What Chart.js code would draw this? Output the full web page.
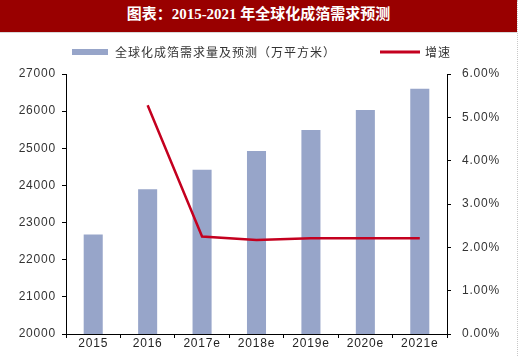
<!DOCTYPE html>
<html>
<head>
<meta charset="utf-8">
<script src="https://cdn.jsdelivr.net/npm/chart.js@4"></script>
<style>
  html, body { margin: 0; padding: 0; background: #fff; width: 520px; height: 356px; overflow: hidden; }
  #title { position: absolute; left: 0; top: 0; width: 517px; height: 32px; background: #990000;
           color: #fff; font: bold 15px "Liberation Serif", "Noto Sans CJK SC", serif; text-align: center;
           line-height: 29px; border-bottom: 1px solid #d8d8d8; }
  #wrap { position: absolute; left: 0; top: 33px; width: 520px; height: 323px; }
  #edge { position: absolute; left: 517px; top: 0; width: 0; height: 356px; border-left: 1px dotted #c8c8c8; }
</style>
</head>
<body>
<div id="title">图表：2015-2021&nbsp;年全球化成箔需求预测</div>
<div id="wrap"><canvas id="c" width="520" height="323"></canvas></div>
<div id="edge"></div>
<script>
const categories = ['2015', '2016', '2017e', '2018e', '2019e', '2020e', '2021e'];
const demand = [22680, 23900, 24420, 24930, 25490, 26030, 26600];
const growth = [null, 5.28, 2.25, 2.17, 2.21, 2.21, 2.21];
const demandLabel = '全球化成箔需求量及预测（万平方米）';
const growthLabel = '增速';
const leftTicks = [20000, 21000, 22000, 23000, 24000, 25000, 26000, 27000];
const rightTicks = [0, 1, 2, 3, 4, 5, 6];

const BAR = '#97a5c9';
const LINE = '#c4001f';

const spacingPlugin = {
  id: 'spacing',
  beforeUpdate(chart) { chart.ctx.letterSpacing = '0.8px'; },
  beforeDraw(chart) { chart.ctx.letterSpacing = '0.8px'; }
};

const legendPlugin = {
  id: 'customLegend',
  afterDraw(chart) {
    const ctx = chart.ctx;
    ctx.save();
    ctx.letterSpacing = '1px';
    ctx.fillStyle = BAR;
    ctx.fillRect(72, 16, 36, 6);
    ctx.font = '12px "Noto Sans CJK SC", sans-serif';
    ctx.fillStyle = '#333';
    ctx.textBaseline = 'middle';
    ctx.textAlign = 'left';
    ctx.fillText(demandLabel, 115, 19);
    ctx.strokeStyle = LINE;
    ctx.lineWidth = 3;
    ctx.beginPath();
    ctx.moveTo(380, 19);
    ctx.lineTo(420, 19);
    ctx.stroke();
    ctx.fillText(growthLabel, 425, 19);
    ctx.restore();
  }
};

new Chart(document.getElementById('c'), {
  data: {
    labels: categories,
    datasets: [
      {
        type: 'line', label: growthLabel, data: growth, yAxisID: 'y1',
        borderColor: LINE, backgroundColor: LINE, borderWidth: 2.5,
        pointRadius: 0, tension: 0, order: 0, spanGaps: false
      },
      {
        type: 'bar', label: demandLabel, data: demand, yAxisID: 'y',
        backgroundColor: BAR, borderWidth: 0,
        barPercentage: 0.35, categoryPercentage: 1.0, order: 1
      }
    ]
  },
  options: {
    responsive: false,
    animation: false,
    layout: { padding: { top: 41, left: 0, right: 0, bottom: 0 } },
    plugins: { legend: { display: false }, tooltip: { enabled: false }, title: { display: false } },
    scales: {
      x: {
        offset: true,
        grid: { display: true, drawOnChartArea: false, offset: true, tickLength: 4, color: '#000', tickColor: '#000' },
        border: { display: true, color: '#000', width: 1 },
        ticks: { color: '#222', font: { family: 'Arial, "Liberation Sans", sans-serif', size: 12 }, padding: -2, maxRotation: 0 },
        afterFit(s) { s.height = 22; }
      },
      y: {
        position: 'left', min: 20000, max: 27000,
        afterBuildTicks(s) { s.ticks = leftTicks.map(v => ({ value: v })); },
        grid: { display: true, drawOnChartArea: false, tickLength: 4, color: '#000', tickColor: '#000' },
        border: { display: true, color: '#000', width: 1 },
        ticks: { color: '#333', font: { family: 'Arial, "Liberation Sans", sans-serif', size: 12 }, padding: 6,
                 callback: v => String(v) },
        afterFit(s) { s.width = 66; }
      },
      y1: {
        position: 'right', min: 0, max: 6,
        afterBuildTicks(s) { s.ticks = rightTicks.map(v => ({ value: v })); },
        grid: { display: true, drawOnChartArea: false, tickLength: 4, color: '#000', tickColor: '#000' },
        border: { display: true, color: '#000', width: 1 },
        ticks: { color: '#333', font: { family: 'Arial, "Liberation Sans", sans-serif', size: 12 }, padding: 11,
                 callback: v => Number(v).toFixed(2) + '%' },
        afterFit(s) { s.width = 73; }
      }
    }
  },
  plugins: [spacingPlugin, legendPlugin]
});
</script>
</body>
</html>
